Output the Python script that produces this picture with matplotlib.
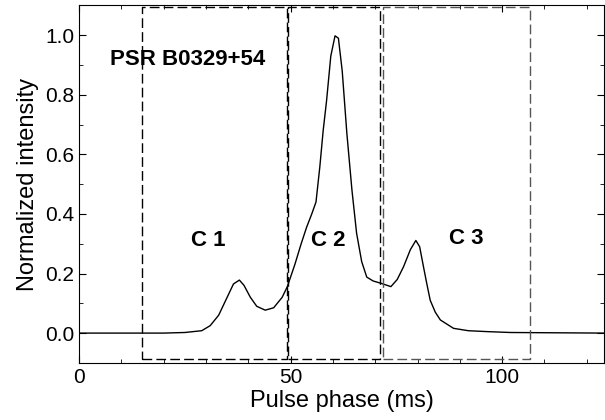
import matplotlib
matplotlib.use("Agg")
import matplotlib.pyplot as plt
from matplotlib.ticker import MultipleLocator, FormatStrFormatter

plt.rcParams['font.family'] = ['Liberation Sans', 'DejaVu Sans']

# profile
phase = [0, 20, 25, 29, 31, 33, 35, 36.5, 37.9, 39, 40.5, 42, 44, 46, 48, 49.2,
         51, 52.5, 53.8, 55, 56, 56.9, 57.7, 58.5, 59.5, 60.5, 61.3, 62.2, 63.3,
         64.5, 65.6, 66.8, 68, 69.5, 71.4, 73.7, 75.2, 76.7, 78.3, 79.6, 80.5,
         81.4, 82.2, 83.0, 84.2, 85.4, 88.5, 92, 96.4, 102, 124.1]
intensity = [0, 0, 0.002, 0.008, 0.025, 0.06, 0.12, 0.165, 0.178, 0.16, 0.12, 0.09,
             0.077, 0.085, 0.12, 0.155, 0.23, 0.3, 0.356, 0.4, 0.44, 0.557, 0.68,
             0.78, 0.93, 0.998, 0.99, 0.88, 0.67, 0.48, 0.335, 0.24, 0.188, 0.175,
             0.167, 0.156, 0.18, 0.223, 0.28, 0.311, 0.29, 0.223, 0.165, 0.11, 0.07,
             0.044, 0.016, 0.008, 0.005, 0.002, 0]

# component windows (x0, x1, colour)
boxes = [(15.0, 49.2, 'black'), (49.3, 71.2, 'black'), (71.9, 106.6, '#555555')]
box_y = (-0.088, 1.095)
comp_labels = ['C 1', 'C 2', 'C 3']
comp_x = [30.6, 59.0, 91.6]
comp_y = [0.31, 0.31, 0.317]

fig = plt.figure(figsize=(6.05, 4.2), dpi=100)
ax = fig.add_axes([0.1306, 0.136, 0.868, 0.851])

ax.plot(phase, intensity, color='black', lw=1.0)

for (x0, x1, c) in boxes:
    ax.plot([x0, x1, x1, x0, x0], [box_y[0], box_y[0], box_y[1], box_y[1], box_y[0]],
            color=c, lw=1.0, ls=(0, (7, 3)), clip_on=False)

for lab, x, y in zip(comp_labels, comp_x, comp_y):
    ax.text(x, y, lab, fontsize=16, fontweight='bold', ha='center', va='center')
ax.text(7.3, 0.92, 'PSR B0329+54', fontsize=16, fontweight='bold', ha='left', va='center')

ax.set_xlim(0, 124.1)
ax.set_ylim(-0.1, 1.1)
ax.xaxis.set_major_locator(MultipleLocator(50))
ax.xaxis.set_minor_locator(MultipleLocator(10))
ax.yaxis.set_major_locator(MultipleLocator(0.2))
ax.yaxis.set_minor_locator(MultipleLocator(0.1))
ax.yaxis.set_major_formatter(FormatStrFormatter('%.1f'))
ax.tick_params(which='both', direction='in', top=True, right=True, labelsize=15)
ax.tick_params(which='major', length=5)
ax.tick_params(which='minor', length=3)
ax.set_xlabel('Pulse phase (ms)', fontsize=17, labelpad=2)
ax.set_ylabel('Normalized intensity', fontsize=17, labelpad=4)

fig.savefig('out.png', dpi=100)
